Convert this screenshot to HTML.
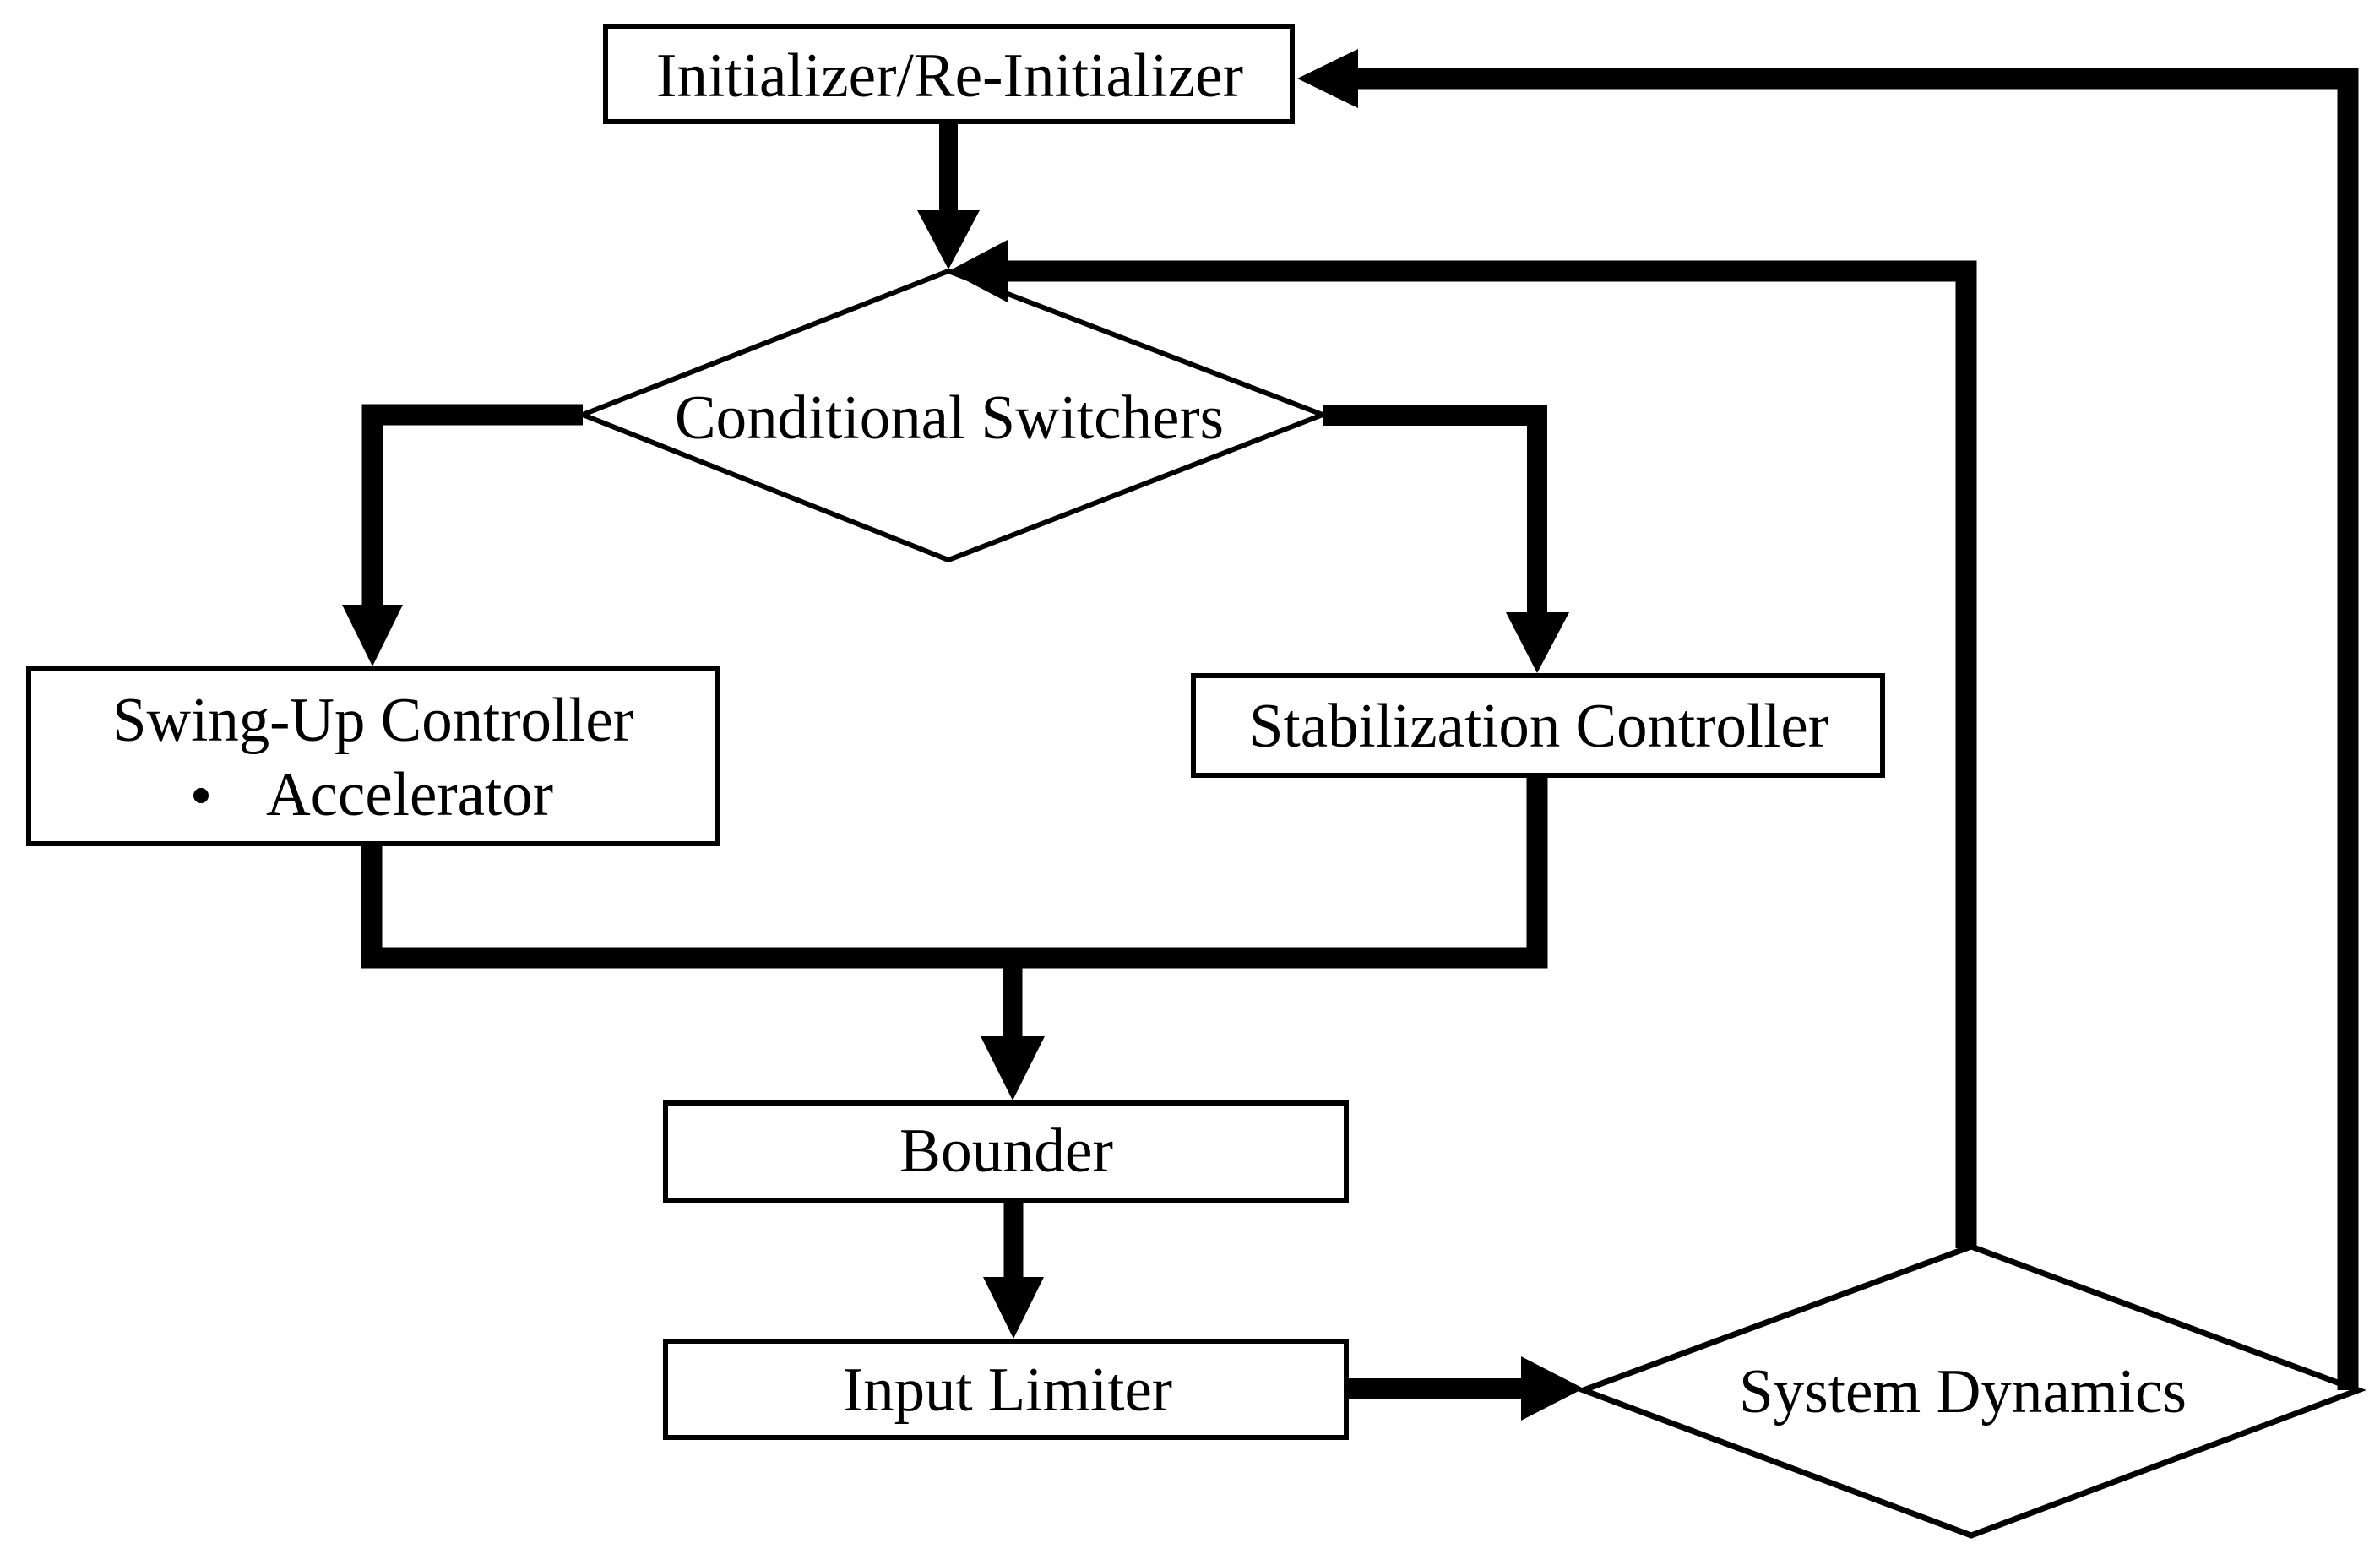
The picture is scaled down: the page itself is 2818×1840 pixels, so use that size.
<!DOCTYPE html>
<html><head><meta charset="utf-8"><style>
html,body{margin:0;padding:0;background:#fff;}
svg{display:block;}
text{font-family:"Liberation Serif","Times New Roman",serif;font-size:74px;fill:#000;}
</style></head><body>
<svg width="2818" height="1840" viewBox="0 0 2818 1840" xmlns="http://www.w3.org/2000/svg">
<rect width="2818" height="1840" fill="#fff"/>
<g fill="none" stroke="#000" stroke-linejoin="miter">
  <!-- boxes -->
  <rect x="717" y="31" width="813" height="113" stroke-width="6"/>
  <rect x="34" y="792" width="815" height="207" stroke-width="6"/>
  <rect x="1413" y="800" width="816" height="118" stroke-width="6"/>
  <rect x="788" y="1306" width="806" height="115" stroke-width="6"/>
  <rect x="788" y="1588" width="806" height="114" stroke-width="6"/>
  <!-- diamonds -->
  <polygon points="1123,321 1566,491 1123,663 690,491" stroke-width="6"/>
  <polygon points="1875,1646 2334,1476 2792,1646 2334,1818" stroke-width="7"/>
  <!-- connectors -->
  <line x1="1123" y1="147" x2="1123" y2="252" stroke-width="22"/>
  <polyline points="2328,1478 2328,321 1190,321" stroke-width="25"/>
  <polyline points="2780,1646 2780,93 1600,93" stroke-width="25"/>
  <polyline points="690,491 441,491 441,720" stroke-width="25"/>
  <polyline points="1566,492 1820,492 1820,728" stroke-width="24"/>
  <polyline points="440,1002 440,1134 1820,1134 1820,921" stroke-width="25"/>
  <line x1="1199" y1="1134" x2="1199" y2="1230" stroke-width="23"/>
  <line x1="1200" y1="1424" x2="1200" y2="1515" stroke-width="23"/>
  <line x1="1597" y1="1644" x2="1806" y2="1644" stroke-width="24"/>
</g>
<g fill="#000">
  <polygon points="1086,249 1160,249 1123,319"/>
  <polygon points="1123,321 1193,284 1193,358"/>
  <polygon points="1536,93 1608,58 1608,128"/>
  <polygon points="405,716 477,716 441,789"/>
  <polygon points="1783,725 1858,725 1820,797"/>
  <polygon points="1161,1227 1237,1227 1199,1303"/>
  <polygon points="1164,1512 1236,1512 1200,1585"/>
  <polygon points="1801,1606 1801,1682 1875,1644"/>
</g>
<text x="777" y="114" textLength="695" lengthAdjust="spacingAndGlyphs">Initializer/Re-Initializer</text>
<text x="799" y="519" textLength="650" lengthAdjust="spacingAndGlyphs">Conditional Switchers</text>
<text x="133" y="877" textLength="617" lengthAdjust="spacingAndGlyphs">Swing-Up Controller</text>
<circle cx="238" cy="942" r="9" fill="#000"/>
<text x="315" y="965" textLength="340" lengthAdjust="spacingAndGlyphs">Accelerator</text>
<text x="1479" y="884" textLength="686" lengthAdjust="spacingAndGlyphs">Stabilization Controller</text>
<text x="1065" y="1387" textLength="253" lengthAdjust="spacingAndGlyphs">Bounder</text>
<text x="998" y="1670" textLength="390" lengthAdjust="spacingAndGlyphs">Input Limiter</text>
<text x="2059" y="1672" textLength="530" lengthAdjust="spacingAndGlyphs">System Dynamics</text>
</svg>
</body></html>
